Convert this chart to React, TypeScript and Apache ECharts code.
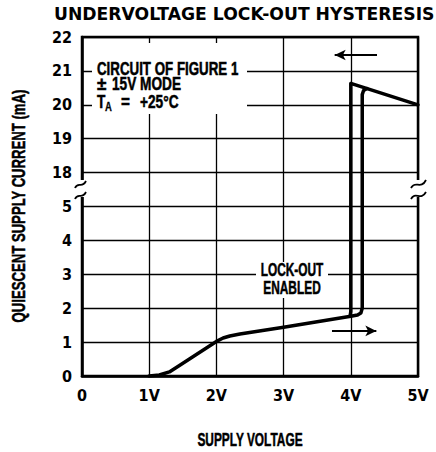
import { useEffect, useRef } from "react";
import * as echarts from "echarts";

// ---- data ----
const xTickLabels = ["0", "1V", "2V", "3V", "4V", "5V"];
const yTickLabels = ["0", "1", "2", "3", "4", "5", "18", "19", "20", "21", "22"];

// rising supply voltage (lock-out enabled until ~4.17 V)
const risingVoltage = [1.0, 1.15, 1.3, 1.45, 2.0, 2.1, 2.2, 2.35, 3.0, 3.5, 4.0, 4.1, 4.15, 4.17, 4.17, 4.19, 4.24];
const risingCurrent = [0, 0.03, 0.12, 0.31, 1.02, 1.12, 1.18, 1.24, 1.44, 1.6, 1.76, 1.8, 1.86, 2.0, 20.3, 20.42, 20.48];

// falling supply voltage (drops out at ~4.0 V)
const fallingVoltage = [5.0, 4.0, 4.0, 3.99];
const fallingCurrent = [20.0, 20.63, 1.9, 1.77];

// hysteresis direction arrows [from, to] in (volts, mA)
const arrowFalling = [[4.39, 21.47], [3.76, 21.47]];
const arrowRising = [[3.72, 1.33], [4.38, 1.33]];

// axis break: 5 mA .. 18 mA collapsed to one grid step
const BREAK_LOW = 5;
const BREAK_HIGH = 18;
const toAxis = (v: number) => (v > BREAK_LOW ? v - (BREAK_HIGH - BREAK_LOW - 1) : v);

const COND = '"Liberation Sans Narrow", "DejaVu Sans Condensed", "Arial Narrow", sans-serif';
const SANS = '"Liberation Sans", Arial, sans-serif';

export default function App() {
  const ref = useRef<HTMLDivElement>(null);
  useEffect(() => {
    if (!ref.current) return;
    const chart = echarts.init(ref.current, undefined, { renderer: "svg" });
    const rising = risingVoltage.map((x, i) => [x, toAxis(risingCurrent[i])]);
    const falling = fallingVoltage.map((x, i) => [x, toAxis(fallingCurrent[i])]);
    const arrow = (a: number[][]) => [
      { coord: [a[0][0], toAxis(a[0][1])] },
      { coord: [a[1][0], toAxis(a[1][1])] },
    ];
    const txt = (text: string, x: number, y: number, sx: number, extra: any = {}, rot = 0) => ({
      type: "text",
      x,
      y,
      z: 11,
      scaleX: sx,
      rotation: rot,
      style: {
        text,
        fill: "#000",
        stroke: "#000",
        lineWidth: 0.5,
        fontFamily: SANS,
        fontWeight: "bold",
        fontSize: 18,
        align: "left",
        verticalAlign: "middle",
        ...extra,
      },
    });
    const squiggle = (x1: number, y1: number, c1x: number, c1y: number, c2x: number, c2y: number, x2: number, y2: number) => ({
      type: "bezierCurve",
      z: 12,
      shape: { x1, y1, cpx1: c1x, cpy1: c1y, cpx2: c2x, cpy2: c2y, x2, y2 },
      style: { stroke: "#000", lineWidth: 1.8, fill: null },
    });
    chart.setOption({
      animation: false,
      backgroundColor: "#fff",
      grid: {
        left: 82,
        right: 18,
        top: 37,
        bottom: 76,
        show: true,
        borderColor: "#000",
        borderWidth: 2.5,
        backgroundColor: "transparent",
      },
      xAxis: {
        type: "value",
        min: 0,
        max: 5,
        interval: 1,
        axisLine: { show: true, lineStyle: { color: "#000", width: 2.5 } },
        axisTick: { show: false },
        splitLine: { show: true, lineStyle: { color: "#000", width: 1.3 } },
        axisLabel: {
          margin: 11,
          color: "#000",
          fontFamily: COND,
          fontWeight: "bold",
          fontSize: 16,
          showMaxLabel: true,
          showMinLabel: true,
          formatter: (v: number) => xTickLabels[Math.round(v)],
        },
      },
      yAxis: {
        type: "value",
        min: 0,
        max: 10,
        interval: 1,
        axisLine: { show: true, lineStyle: { color: "#000", width: 2.5 } },
        axisTick: { show: false },
        splitLine: { show: true, lineStyle: { color: "#000", width: 1.3 } },
        axisLabel: {
          margin: 10,
          color: "#000",
          fontFamily: COND,
          fontWeight: "bold",
          fontSize: 16,
          formatter: (v: number) => yTickLabels[Math.round(v)],
        },
      },
      series: [
        {
          type: "line",
          name: "Rising",
          data: rising,
          symbol: "none",
          lineStyle: { color: "#000", width: 3.5, cap: "round", join: "round" },
          z: 5,
        },
        {
          type: "line",
          name: "Falling",
          data: falling,
          symbol: "none",
          lineStyle: { color: "#000", width: 3.5, cap: "round", join: "round" },
          z: 5,
          markLine: {
            silent: true,
            symbol: ["none", "arrow"],
            symbolSize: [8, 11],
            label: { show: false },
            lineStyle: { color: "#000", width: 2, type: "solid" },
            data: [arrow(arrowFalling), arrow(arrowRising)],
          },
        },
      ],
      graphic: [
        {
          type: "text",
          x: 54,
          y: 14,
          z: 11,
          style: {
            text: "UNDERVOLTAGE LOCK-OUT HYSTERESIS",
            fill: "#000",
            fontFamily: '"DejaVu Sans", sans-serif',
            fontWeight: "bold",
            fontSize: 17.2,
            align: "left",
            verticalAlign: "middle",
          },
        },
        { type: "rect", z: 10, shape: { x: 92, y: 43, width: 155, height: 71 }, style: { fill: "#fff" } },
        txt("CIRCUIT OF FIGURE 1", 97, 69, 0.74),
        txt("±", 97, 84, 0.95),
        txt("15V MODE", 112, 84, 0.76),
        txt("T", 97, 102, 0.76),
        txt("A", 105, 106, 0.76, { fontSize: 12.5, lineWidth: 0.3 }),
        txt("=", 121, 102, 0.85),
        txt("+25°C", 140, 102, 0.76),
        { type: "rect", z: 10, shape: { x: 256, y: 262, width: 72, height: 36 }, style: { fill: "#fff" } },
        txt("LOCK-OUT", 292, 270, 0.66, { align: "center" }),
        txt("ENABLED", 292, 288, 0.66, { align: "center" }),
        txt("QUIESCENT SUPPLY CURRENT (mA)", 19, 206, 0.73, { align: "center" }, Math.PI / 2),
        txt("SUPPLY VOLTAGE", 250, 440, 0.66, { align: "center" }),
        // axis breaks
        { type: "rect", z: 10, shape: { x: 78, y: 180, width: 9, height: 17 }, style: { fill: "#fff" } },
        { type: "rect", z: 10, shape: { x: 414, y: 180, width: 9, height: 17 }, style: { fill: "#fff" } },
        squiggle(75, 188, 78, 181, 82, 189, 86, 181),
        squiggle(75, 199, 78, 192, 82, 200, 86, 192),
        squiggle(411, 188, 415, 180, 421, 190, 426, 180),
        squiggle(411, 199, 415, 191, 421, 201, 426, 192),
      ],
    });
    return () => chart.dispose();
  }, []);
  return (
    <div
      ref={ref}
      style={{ position: "fixed", left: 0, top: 0, width: 436, height: 452, background: "#fff" }}
    />
  );
}
